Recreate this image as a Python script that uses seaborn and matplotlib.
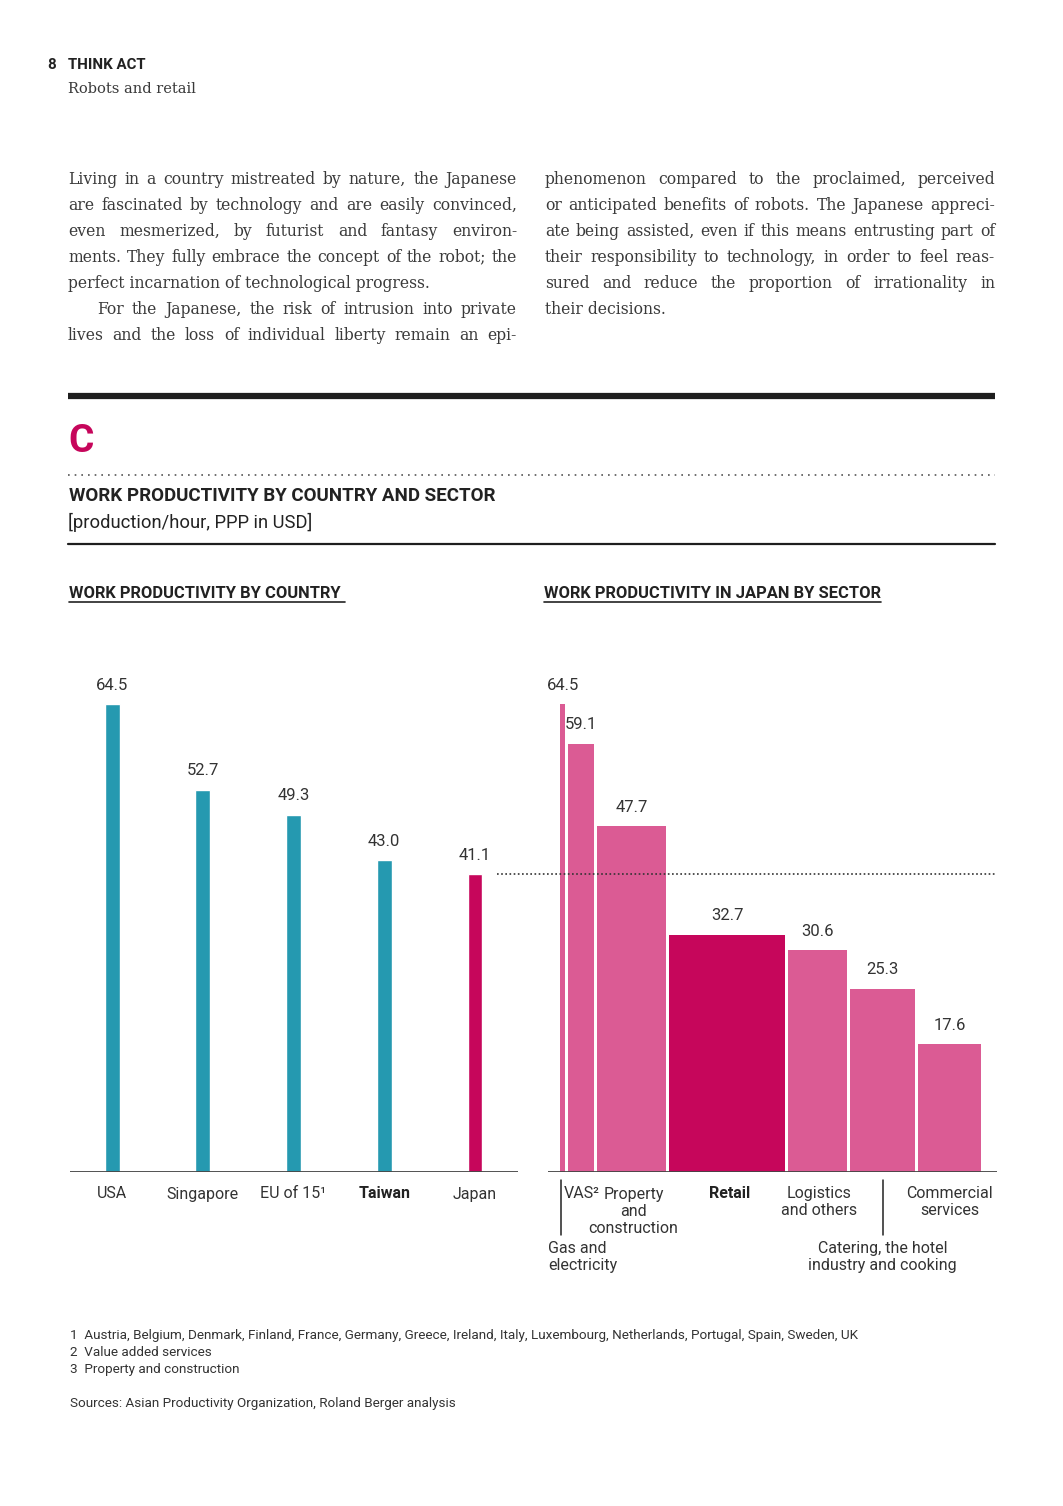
import matplotlib
matplotlib.use('Agg')
import matplotlib.pyplot as plt
import seaborn as sns
import numpy as np
import pandas as pd

# --- data -------------------------------------------------------------------
countries = ['USA', 'Singapore', 'EU of 15¹', 'Taiwan', 'Japan']
country_values = [64.5, 52.7, 49.3, 43.0, 41.1]

sectors = ['Gas and electricity', 'VAS²', 'Property and construction', 'Retail',
           'Logistics and others', 'Catering, the hotel industry and cooking',
           'Commercial services']
sector_values = [64.5, 59.1, 47.7, 32.7, 30.6, 25.3, 17.6]
sector_widths = [5, 26, 69, 116, 59, 65, 63]   # relative share (bar width)

footnotes = ['1  Austria, Belgium, Denmark, Finland, France, Germany, Greece, Ireland, Italy, Luxembourg, Netherlands, Portugal, Spain, Sweden, UK',
             '2  Value added services',
             '3  Property and construction']
source = 'Sources: Asian Productivity Organization, Roland Berger analysis'

left_col = [
    ('Living in a country mistreated by nature, the Japanese', True, 0),
    ('are fascinated by technology and are easily convinced,', True, 0),
    ('even mesmerized, by futurist and fantasy environ-', True, 0),
    ('ments. They fully embrace the concept of the robot; the', True, 0),
    ('perfect incarnation of technological progress.', False, 0),
    ('For the Japanese, the risk of intrusion into private', True, 29),
    ('lives and the loss of individual liberty remain an epi-', True, 0),
]
right_col = [
    ('phenomenon compared to the proclaimed, perceived', True, 0),
    ('or anticipated benefits of robots. The Japanese appreci-', True, 0),
    ('ate being assisted, even if this means entrusting part of', True, 0),
    ('their responsibility to technology, in order to feel reas-', True, 0),
    ('sured and reduce the proportion of irrationality in', True, 0),
    ('their decisions.', False, 0),
]

TEAL = '#2599B0'
MAGENTA = '#C6065B'
PINK = '#DB5B94'
INK = '#2B2B2B'
SANS = ['Roboto', 'DejaVu Sans']
SERIF = ['DejaVu Serif']

sns.set_style('white')
plt.rcParams['font.family'] = SANS

W, H = 1063, 1506
fig = plt.figure(figsize=(W / 100, H / 100), dpi=100)
renderer = fig.canvas.get_renderer()


def fx(x):
    return x / W


def fy(y):
    return 1 - y / H


def ptext(x, y, s, **kw):
    kw.setdefault('va', 'center')
    kw.setdefault('color', INK)
    return fig.text(fx(x), fy(y), s, **kw)


def hline(x0, x1, y, **kw):
    fig.add_artist(plt.Line2D([fx(x0), fx(x1)], [fy(y), fy(y)], **kw))


def text_width(s, **kw):
    t = ptext(0, 0, s, **kw)
    w = t.get_window_extent(renderer).width
    t.remove()
    return w


def fit_size(cols, width):
    ratios = []
    for lines in cols:
        for line, just, indent in lines:
            if just:
                ratios.append((width - indent) / text_width(line, family=SERIF, fontsize=10))
    return 10 * min(ratios) * 0.99


def justified(lines, x0, x1, y0, step, size):
    for i, (line, just, indent) in enumerate(lines):
        y = y0 + i * step
        words = line.split(' ')
        if not just:
            ptext(x0 + indent, y, line, family=SERIF, fontsize=size, color='#3A3A3A')
            continue
        arts = [ptext(0, y, w, family=SERIF, fontsize=size, color='#3A3A3A') for w in words]
        widths = [a.get_window_extent(renderer).width for a in arts]
        gap = (x1 - x0 - indent - sum(widths)) / (len(words) - 1)
        x = x0 + indent
        for a, w in zip(arts, widths):
            a.set_x(fx(x))
            x += w + gap


# --- header and body text ----------------------------------------------------
ptext(47, 65, '8', fontsize=10.8, fontweight='bold', color='#222222')
ptext(68, 65, 'THINK ACT', fontsize=10.8, fontweight='bold', color='#222222')
ptext(68, 89, 'Robots and retail', family=SERIF, fontsize=10.5, color='#3A3A3A')

body_size = fit_size([left_col, right_col], 449)
justified(left_col, 68, 517, 179, 26, body_size)
justified(right_col, 545, 995, 179, 26, body_size)

hline(68, 995, 396, color='#1E1E1E', lw=4.5, solid_capstyle='butt')
ptext(68, 441, 'C', fontsize=28, fontweight='bold', color=MAGENTA)
hline(68, 995, 475, color='#555555', lw=1.2, linestyle=(0, (1, 3)))
ptext(69, 496, 'WORK PRODUCTIVITY BY COUNTRY AND SECTOR', fontsize=13.5, fontweight='bold', color='#222222')
ptext(68, 522, '[production/hour, PPP in USD]', fontsize=13.2, color='#222222')
hline(68, 995, 544, color='#1E1E1E', lw=1.6)

for x0, s in [(69, 'WORK PRODUCTIVITY BY COUNTRY '), (544, 'WORK PRODUCTIVITY IN JAPAN BY SECTOR')]:
    t = ptext(x0, 594, s, fontsize=11.9, fontweight='bold', color='#222222')
    wd = t.get_window_extent(renderer).width
    hline(x0, x0 + wd, 602, color='#222222', lw=1.2)

# --- charts -------------------------------------------------------------------
YMAX = 70
PX_PER = 7.25
base = 1172
ax_h = YMAX * PX_PER
LBL = '#333333'

ax1 = fig.add_axes([fx(70), fy(base), fx(518 - 70), ax_h / H])
df = pd.DataFrame({'country': countries, 'value': country_values})
palette = {c: (MAGENTA if c == 'Japan' else TEAL) for c in countries}
sns.barplot(data=df, x='country', y='value', hue='country', palette=palette,
            width=0.165, saturation=1, legend=False, ax=ax1)
ax1.set_xlim(-0.463, 4.474)
ax1.set_ylim(0, YMAX)
ax1.axhline(0, color='#444444', lw=1.3)
for i, (c, v) in enumerate(zip(countries, country_values)):
    ax1.annotate(f'{v:.1f}', (i, v), xytext=(0, 19), textcoords='offset pixels',
                 ha='center', va='center', fontsize=12, color=LBL)
    ax1.annotate(c, (i, 0), xytext=(0, -22), textcoords='offset pixels',
                 ha='center', va='center', fontsize=11.5,
                 color='#222222' if c == 'Taiwan' else LBL,
                 fontweight='bold' if c == 'Taiwan' else 'normal')

ax2 = fig.add_axes([fx(548), fy(base), fx(997 - 548), ax_h / H])
gap = 3
lefts = np.concatenate([[0], np.cumsum(np.array(sector_widths[:-1]) + gap)])
centers = lefts + np.array(sector_widths) / 2
colors = [MAGENTA if s == 'Retail' else PINK for s in sectors]
ax2.bar(lefts, sector_values, width=sector_widths, align='edge', color=colors, linewidth=0)
ax2.set_xlim(-12, 437)
ax2.set_ylim(0, YMAX)
ax2.axhline(0, color='#444444', lw=1.3)
ax2.axhline(country_values[-1], xmin=-0.114, xmax=1, color='#333333', lw=1.2,
            linestyle=(0, (1, 1.5)), clip_on=False)
for c, v in zip(centers, sector_values):
    ax2.annotate(f'{v:.1f}', (c, v), xytext=(0, 19), textcoords='offset pixels',
                 ha='center', va='center', fontsize=12, color=LBL)

lab_kw = dict(textcoords='offset pixels', fontsize=11.5, color=LBL, linespacing=1.1)
# hanging labels with a leader line
for idx, text, ha, dx in [(0, 'Gas and\nelectricity', 'left', -14),
                          (5, 'Catering, the hotel\nindustry and cooking', 'center', 0)]:
    ax2.plot([centers[idx] - 1.5] * 2 if idx == 0 else [centers[idx]] * 2,
             [-8 / PX_PER, -63 / PX_PER], color='#222222', lw=1.1, clip_on=False)
    ax2.annotate(text, (centers[idx], 0), xytext=(dx, -85), ha=ha, va='center', **lab_kw)
ax2.annotate('VAS²', (lefts[1], 0), xytext=(-4, -22), ha='left', va='center', **lab_kw)
ax2.annotate('Property', (centers[2], 0), xytext=(2, -22), ha='center', va='center', **lab_kw)
ax2.annotate('and\nconstruction', (centers[2], 0), xytext=(2, -48), ha='center', va='center', **lab_kw)
ax2.annotate('Retail', (centers[3], 0), xytext=(3, -22), ha='center', va='center', fontweight='bold',
             **{**lab_kw, 'color': '#222222'})
ax2.annotate('Logistics\nand others', (centers[4], 0), xytext=(2, -30), ha='center', va='center', **lab_kw)
ax2.annotate('Commercial\nservices', (centers[6], 0), xytext=(0, -30), ha='center', va='center', **lab_kw)

for ax in (ax1, ax2):
    ax.set_axis_off()

# --- footnotes ---------------------------------------------------------------
for i, f in enumerate(footnotes):
    ptext(70, 1336 + i * 17, f, fontsize=9.7, color='#333333')
ptext(70, 1404, source, fontsize=9.7, color='#333333')

fig.savefig('out.png', dpi=100)
